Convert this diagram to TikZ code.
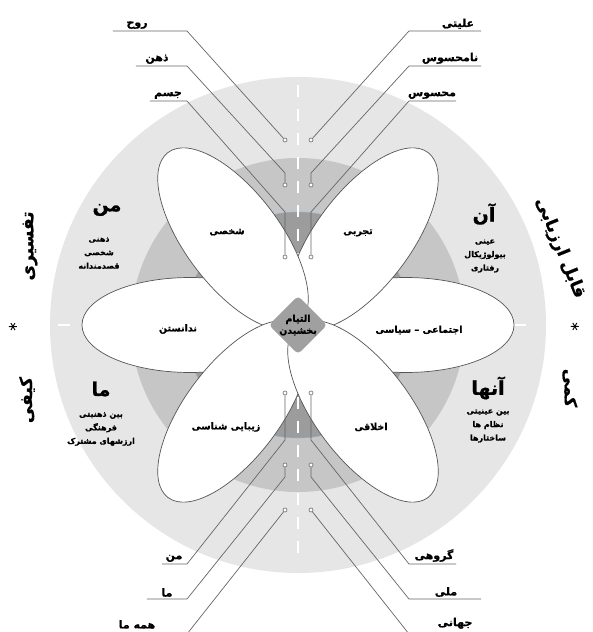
\documentclass[tikz,border=0pt]{standalone}
\usepackage{fontspec}
\usetikzlibrary{shapes.geometric}
\newfontfamily\fa[Script=Arabic, BoldFeatures={FakeBold=0.8}]{DejaVu Sans}
\newfontfamily\symfont{DejaVu Sans}
\TeXXeTstate=1
\newcommand{\rtl}[1]{\beginR #1\endR}

\definecolor{ringout}{HTML}{E6E6E6}
\definecolor{ringmid}{HTML}{C6C6C6}
\definecolor{ringin}{HTML}{9C9C9C}
\definecolor{coregray}{HTML}{A0A0A0}
\definecolor{edgegray}{HTML}{555555}
\definecolor{leadgray}{HTML}{666666}
\definecolor{rim}{HTML}{8FAECB}

\tikzset{
  petal/.style={fill=white, draw=edgegray, line width=0.7pt},
  axis/.style={white, line width=1.3pt, dash pattern=on 12pt off 12pt},
  core/.style={diamond, aspect=1, fill=coregray, minimum size=58pt, inner sep=0pt,
    rounded corners=4pt, align=center, font=\fa\fontsize{9.5}{12}\selectfont\bfseries},
  ptxt/.style={font=\fa\fontsize{9.5}{12}\selectfont\bfseries},
  bigtxt/.style={font=\fa\fontsize{19}{22}\selectfont\bfseries},
  note/.style={align=center, font=\fa\fontsize{8}{13.5}\selectfont\bfseries},
  side/.style={font=\fa\fontsize{17}{20}\selectfont\bfseries},
  star/.style={font=\symfont\fontsize{13}{13}\selectfont, inner sep=0pt},
  tag/.style={anchor=south, inner sep=2pt, font=\fa\fontsize{11}{13}\selectfont\bfseries},
  dot/.style={circle, draw=leadgray, fill=white, line width=0.6pt, inner sep=0pt, minimum size=4pt},
  lead/.style={leadgray, line width=0.7pt}
}

\begin{document}
\begin{tikzpicture}[x=1pt,y=1pt]

  % Frame of the picture
  \useasboundingbox[fill=white] (-298,-307) rectangle (294,325);

  % Draw the three rings
  \fill[ringout] (0,0) circle (248);
  \fill[ringmid] (0,0) circle (167);
  \draw[fill=ringin, draw=rim, line width=0.5pt] (0,0) circle (113);

  % Dashed axes - BEFORE the petals
  \draw[axis] (0,240) -- (0,-240);
  \draw[axis] (-240,0) -- (240,0);

  % Draw the six petals (order sets the overlaps)
  \foreach \a in {180,0,53,127,233,307} {
    \draw[petal, rotate=\a] (108,0) ellipse [x radius=108, y radius=47.5];
  }

  % Label the petals
  \node[ptxt] (personal) at (-71,93) {\rtl{شخصی}};
  \node[ptxt] (empiric) at (60,92) {\rtl{تجربی}};
  \node[ptxt] (unknown) at (-120,-4) {\rtl{ندانستن}};
  \node[ptxt] (social) at (121,-5) {\rtl{اجتماعی – سیاسی}};
  \node[ptxt] (beauty) at (-72,-102) {\rtl{زیبایی شناسی}};
  \node[ptxt] (ethics) at (73,-102) {\rtl{اخلاقی}};

  % The core
  \node[core] (core) at (0,0) {\rtl{التیام}\\\rtl{بخشیدن}};

  % Quadrant titles in the outer ring
  \node[bigtxt] (me) at (-191,115) {\rtl{من}};
  \node[note] (menote) at (-199,72) {\rtl{ذهنی}\\\rtl{شخصی}\\\rtl{قصدمندانه}};
  \node[bigtxt] (we) at (-197,-64) {\rtl{ما}};
  \node[note] (wenote) at (-197,-104) {\rtl{بین ذهنیتی}\\\rtl{فرهنگی}\\\rtl{ارزشهای مشترک}};
  \node[bigtxt] (it) at (186,111) {\rtl{آن}};
  \node[note] (itnote) at (187,69) {\rtl{عینی}\\\rtl{بیولوژیکال}\\\rtl{رفتاری}};
  \node[bigtxt] (its) at (190,-63) {\rtl{آنها}};
  \node[note] (itsnote) at (190,-101) {\rtl{بین عینیتی}\\\rtl{نظام ها}\\\rtl{ساختارها}};

  % Side words
  \node[side, rotate=90] (interp) at (-268,79) {\rtl{تفسیری}};
  \node[side, rotate=90] (quali) at (-271,-75) {\rtl{کیفی}};
  \node[star, rotate=90] (lstar) at (-285,-2) {∗};
  \node[side, rotate=-68] (measur) at (262,77) {\rtl{قابل ارزیابی}};
  \node[side, rotate=-90] (quant) at (272,-63) {\rtl{کمی}};
  \node[star, rotate=-90] (rstar) at (277,-2) {∗};

  % Leader lines with their words
  \foreach \i/\dx/\dy/\bx/\by/\cx/\cy/\ex/\lx/\ty/\txt in {
      1/-13/185/-111/294/-111/294/-185/-161/294/روح,
      2/-13/140/-13/152/-111/259/-162/-141/259/ذهن,
      3/-13/68/-13/113/-111/224/-148/-130/224/جسم,
      4/13/185/111/294/111/294/183/160/294/علیتی,
      5/13/140/13/152/111/259/183/152/259/نامحسوس,
      6/13/68/13/113/111/224/158/134/224/محسوس,
      7/-13/-68/-13/-115/-111/-239/-136/-124/-239/من,
      8/-13/-140/-13/-152/-111/-274/-151/-131/-274/ما,
      9/-13/-185/-111/-309/-111/-309/-185/-161/-306/همه ما,
      10/13/-68/13/-115/111/-239/158/136/-239/گروهی,
      11/13/-140/13/-152/111/-274/183/148/-274/ملی,
      12/13/-185/111/-309/111/-309/183/157/-306/جهانی} {
    \node[dot] (dot\i) at (\dx,\dy) {};
    \coordinate (bend\i) at (\bx,\by);
    \coordinate (knee\i) at (\cx,\cy);
    \coordinate (tail\i) at (\ex,\cy);
    \node[tag] (tag\i) at (\lx,\ty) {\rtl{\txt}};
    \draw[lead] (tail\i) -- (knee\i) -- (bend\i) -- (dot\i);
  }

\end{tikzpicture}
\end{document}
